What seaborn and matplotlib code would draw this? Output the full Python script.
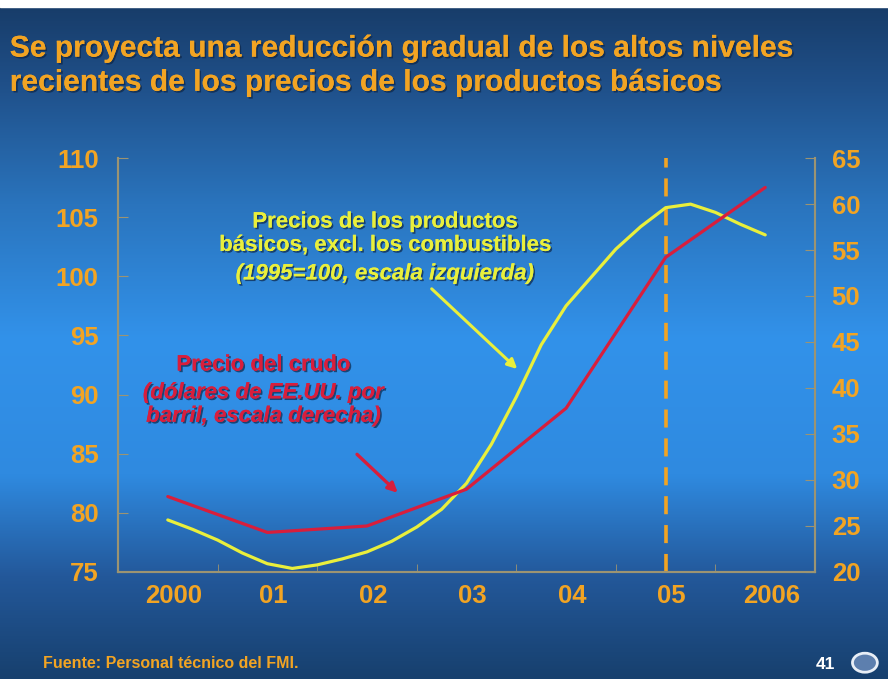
import numpy as np
import pandas as pd
import matplotlib
matplotlib.use("Agg")
import matplotlib.pyplot as plt
import matplotlib.patheffects as pe
import matplotlib.transforms as mtransforms
from matplotlib.colors import LinearSegmentedColormap
from matplotlib.patches import Circle, Rectangle
import seaborn as sns

# x-axis labels (one per year)
years = ["2000", "01", "02", "03", "04", "05", "2006"]

# crude oil price, US$ per barrel (right scale), annual
crudo = [28.2, 24.3, 25.0, 29.0, 37.8, 54.2, 61.8]

# non-fuel commodity prices, 1995=100 (left scale), quarterly
no_combustibles = [79.4, 78.6, 77.7, 76.6, 75.7, 75.3, 75.6, 76.1,
                   76.7, 77.6, 78.8, 80.3, 82.5, 85.8, 89.8, 94.2,
                   97.5, 99.9, 102.3, 104.2, 105.8, 106.1, 105.4, 104.4, 103.5]

ORANGE = "#f2a423"
YELLOW = "#e9ef3c"
RED = "#d81e3c"
SPINE = "#9c9472"

sns.set_style("ticks")
plt.rcParams['font.family'] = ['Liberation Sans', 'DejaVu Sans']

df_crudo = pd.DataFrame({"pos": np.arange(len(crudo)), "precio": crudo})
df_nf = pd.DataFrame({"pos": np.arange(len(no_combustibles)) / 4.0,
                      "indice": no_combustibles})

fig = plt.figure(figsize=(8.88, 6.79), dpi=100)

# slide background: vertical blue gradient
bg = fig.add_axes([0, 0, 1, 1], zorder=-10)
cmap = LinearSegmentedColormap.from_list("slide", [
    (0.00, "#173b67"), (0.12, "#1f4f88"), (0.30, "#2a74bd"),
    (0.50, "#3292ea"), (0.70, "#2f8ae0"), (0.85, "#23589a"),
    (1.00, "#17406e")])
bg.imshow(np.linspace(0, 1, 256).reshape(-1, 1), cmap=cmap, aspect="auto",
          extent=[0, 1, 0, 1])
bg.add_patch(Rectangle((0, 0.99), 1, 0.02, color="white"))
bg.set_xlim(0, 1)
bg.set_ylim(0, 1)
bg.axis("off")

ax = fig.add_axes([0.1329, 0.1576, 0.7849, 0.6097])
ax.patch.set_alpha(0)
ax2 = ax.twinx()
ax2.patch.set_alpha(0)

sns.lineplot(data=df_nf, x="pos", y="indice", ax=ax, color=YELLOW, lw=2.3)
sns.lineplot(data=df_crudo, x="pos", y="precio", ax=ax2, color=RED, lw=2.3)
ax.axvline(5, color=ORANGE, lw=2.6, ls=(0, (5, 3)), zorder=1)

ax.set_xlim(-0.5, 6.5)
ax.set_ylim(75, 110)
ax2.set_ylim(20, 65)
ax.set_yticks(np.arange(75, 111, 5))
ax2.set_yticks(np.arange(20, 66, 5))
ax.set_xticks(range(len(years)))
ax.set_xticklabels(years)
ax.set_xticks(np.arange(0.5, 6, 1), minor=True)
ax.set_xlabel("")
ax.set_ylabel("")
ax2.set_ylabel("")

lab = dict(colors=ORANGE, labelsize=18.5)
ax.tick_params(axis="y", direction="in", length=7, color=SPINE, pad=14, **lab)
ax2.tick_params(axis="y", direction="in", length=7, color=SPINE, pad=12, **lab)
ax.tick_params(axis="x", which="major", length=0, pad=9, **lab)
ax.tick_params(axis="x", which="minor", direction="in", length=6, color=SPINE)
for a in (ax, ax2):
    for t in a.get_xticklabels() + a.get_yticklabels():
        t.set_fontweight("bold")
    a.spines["top"].set_visible(False)
    for s in ("left", "right", "bottom"):
        a.spines[s].set_color(SPINE)
        a.spines[s].set_linewidth(1.5)

# year labels sit a little right of the interval centres on the slide
nudge = mtransforms.ScaledTranslation(6 / 100, 0, fig.dpi_scale_trans)
for t in ax.get_xticklabels():
    t.set_transform(t.get_transform() + nudge)

shadow = [pe.withSimplePatchShadow(offset=(1.2, -1.2), shadow_rgbFace="#0d2547", alpha=0.7),
          pe.Normal()]

# series annotations
ax.text(2.18, 103.6, "Precios de los productos\nbásicos, excl. los combustibles",
        color=YELLOW, fontsize=16, fontweight="bold", ha="center", va="center",
        linespacing=1.15, path_effects=shadow)
ax.text(2.18, 100.2, "(1995=100, escala izquierda)", color=YELLOW, fontsize=16,
        fontweight="bold", style="italic", ha="center", va="center", path_effects=shadow)
ax.annotate("", xy=(3.53, 92.0), xytext=(2.63, 99.1),
            arrowprops=dict(arrowstyle="-|>", color=YELLOW, lw=2.2, mutation_scale=14))

ax2.text(0.96, 42.5, "Precio del crudo", color=RED, fontsize=16, fontweight="bold",
         ha="center", va="center", path_effects=shadow)
ax2.text(0.96, 38.2, "(dólares de EE.UU. por\nbarril, escala derecha)", color=RED,
         fontsize=16, fontweight="bold", style="italic", ha="center", va="center",
         linespacing=1.15, path_effects=shadow)
ax2.annotate("", xy=(2.33, 28.4), xytext=(1.88, 33.0),
             arrowprops=dict(arrowstyle="-|>", color=RED, lw=2.4, mutation_scale=14))

fig.text(0.011, 0.949, "Se proyecta una reducción gradual de los altos niveles\n"
         "recientes de los precios de los productos básicos",
         color=ORANGE, fontsize=21.6, fontweight="bold", ha="left", va="top",
         linespacing=1.28, path_effects=shadow)

fig.text(0.048, 0.023, "Fuente: Personal técnico del FMI.", color=ORANGE,
         fontsize=11.5, fontweight="bold", ha="left", va="center")
fig.text(0.93, 0.022, "41", color="white", fontsize=12.5, fontweight="bold",
         ha="center", va="center")
fig.add_artist(Circle((0.974, 0.024), 0.014, transform=fig.transFigure,
                      facecolor="#5d7fae", edgecolor="#e8eef6", lw=2))

fig.savefig("out.png", dpi=100)
